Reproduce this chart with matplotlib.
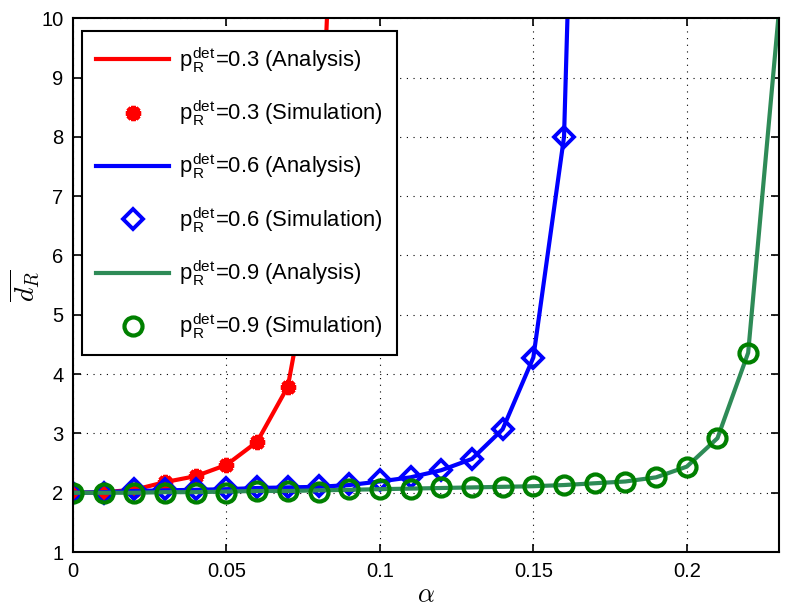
#!/usr/bin/env python3
"""Average delay d_R versus alpha for three detection probabilities"""

import numpy as np
import matplotlib

matplotlib.use("Agg")
import matplotlib.pyplot as plt

# analysis curves (one step past the last simulated point, clipped by ylim)
alphaRedAna = [0.0, 0.01, 0.02, 0.03, 0.04, 0.05, 0.06, 0.07, 0.08, 0.09]
redAna = [2.0, 2.01, 2.05, 2.18, 2.28, 2.47, 2.86, 3.79, 6.6, 19.0]
alphaBlueAna = [0.0, 0.01, 0.02, 0.03, 0.04, 0.05, 0.06, 0.07, 0.08,
                0.09, 0.1, 0.11, 0.12, 0.13, 0.14, 0.15, 0.16, 0.17]
blueAna = [2.0, 2.01, 2.03, 2.04, 2.05, 2.06, 2.08, 2.09, 2.1,
           2.13, 2.19, 2.26, 2.38, 2.57, 3.07, 4.28, 8.0, 26.0]
alphaGreenAna = [0.0, 0.01, 0.02, 0.03, 0.04, 0.05, 0.06, 0.07, 0.08, 0.09,
                 0.1, 0.11, 0.12, 0.13, 0.14, 0.15, 0.16, 0.17, 0.18, 0.19,
                 0.2, 0.21, 0.22, 0.23]
greenAna = [2.0, 2.0, 2.0, 2.01, 2.01, 2.02, 2.03, 2.03, 2.04, 2.05,
            2.06, 2.07, 2.08, 2.09, 2.1, 2.11, 2.13, 2.16, 2.19, 2.26,
            2.44, 2.92, 4.36, 10.1]

# simulation points
alphaRedSim = [0.0, 0.01, 0.02, 0.03, 0.04, 0.05, 0.06, 0.07]
redSim = [2.0, 2.01, 2.05, 2.18, 2.28, 2.47, 2.86, 3.79]
alphaBlueSim = [0.0, 0.01, 0.02, 0.03, 0.04, 0.05, 0.06, 0.07, 0.08,
                0.09, 0.1, 0.11, 0.12, 0.13, 0.14, 0.15, 0.16]
blueSim = [2.0, 2.0, 2.06, 2.07, 2.06, 2.08, 2.1, 2.1, 2.12,
           2.14, 2.21, 2.27, 2.38, 2.57, 3.07, 4.28, 8.0]
alphaGreenSim = [0.0, 0.01, 0.02, 0.03, 0.04, 0.05, 0.06, 0.07, 0.08,
                 0.09, 0.1, 0.11, 0.12, 0.13, 0.14, 0.15, 0.16, 0.17,
                 0.18, 0.19, 0.2, 0.21, 0.22]
greenSim = [2.0, 2.0, 1.99, 2.0, 2.0, 1.99, 2.03, 2.03, 2.02,
            2.07, 2.07, 2.06, 2.09, 2.09, 2.09, 2.12, 2.13, 2.16,
            2.18, 2.26, 2.44, 2.92, 4.36]

labels = [
    r"p$_\mathregular{R}^\mathregular{det}$=0.3 (Analysis)",
    r"p$_\mathregular{R}^\mathregular{det}$=0.3 (Simulation)",
    r"p$_\mathregular{R}^\mathregular{det}$=0.6 (Analysis)",
    r"p$_\mathregular{R}^\mathregular{det}$=0.6 (Simulation)",
    r"p$_\mathregular{R}^\mathregular{det}$=0.9 (Analysis)",
    r"p$_\mathregular{R}^\mathregular{det}$=0.9 (Simulation)",
]
xTicks = [0.0, 0.05, 0.1, 0.15, 0.2]
xTickLabels = ["0", "0.05", "0.1", "0.15", "0.2"]
yTicks = [1, 2, 3, 4, 5, 6, 7, 8, 9, 10]


def makePlot():
    """Draw the figure"""
    plt.rcParams.update(
        {
            "font.family": ["Liberation Sans", "DejaVu Sans"],
            "font.size": 14.5,
            "mathtext.fontset": "cm",
            "axes.linewidth": 1.5,
        }
    )

    fig = plt.figure(figsize=(7.98, 6.08), dpi=100)
    ax = fig.add_axes([0.0915, 0.092, 0.8845, 0.878])

    ax.plot(alphaRedAna, redAna, color="#ff0000", linewidth=3, label=labels[0])
    ax.plot(alphaRedSim, redSim, linestyle="none", marker=(8, 2, 0),
            markersize=11, markeredgewidth=3.2, color="#ff0000", label=labels[1])
    ax.plot(alphaBlueAna, blueAna, color="#0000ff", linewidth=3, label=labels[2])
    ax.plot(alphaBlueSim, blueSim, linestyle="none", marker="D", markersize=10,
            markeredgewidth=2.8, markerfacecolor="none", color="#0000ff",
            label=labels[3])
    ax.plot(alphaGreenAna, greenAna, color="#2e8b57", linewidth=3, label=labels[4])
    ax.plot(alphaGreenSim, greenSim, linestyle="none", marker="o", markersize=13,
            markeredgewidth=3, markerfacecolor="none", color="#008000",
            label=labels[5])

    ax.set_xlim(0, 0.23)
    ax.set_ylim(1, 10)
    ax.set_xticks(xTicks)
    ax.set_xticklabels(xTickLabels)
    ax.set_yticks(yTicks)
    ax.tick_params(direction="in", length=6, width=1.2, top=True, right=True,
                   pad=7)
    ax.grid(True, linestyle=(0, (1, 5)), color="k", linewidth=0.8)

    ax.set_xlabel(r"$\alpha$", fontsize=19, labelpad=2)
    ax.set_ylabel(r"$\overline{d_R}$", fontsize=20)
    ax.yaxis.set_label_coords(-0.045, 0.5)

    leg = ax.legend(
        loc="upper left",
        bbox_to_anchor=(0.013, 0.976),
        borderaxespad=0,
        fancybox=False,
        framealpha=1,
        edgecolor="k",
        handlelength=3.3,
        handletextpad=0.45,
        labelspacing=1.1,
        borderpad=0.65,
        fontsize=15.8,
    )
    leg.get_frame().set_linewidth(1.5)

    fig.savefig("out.png", dpi=100)


if __name__ == "__main__":
    makePlot()
